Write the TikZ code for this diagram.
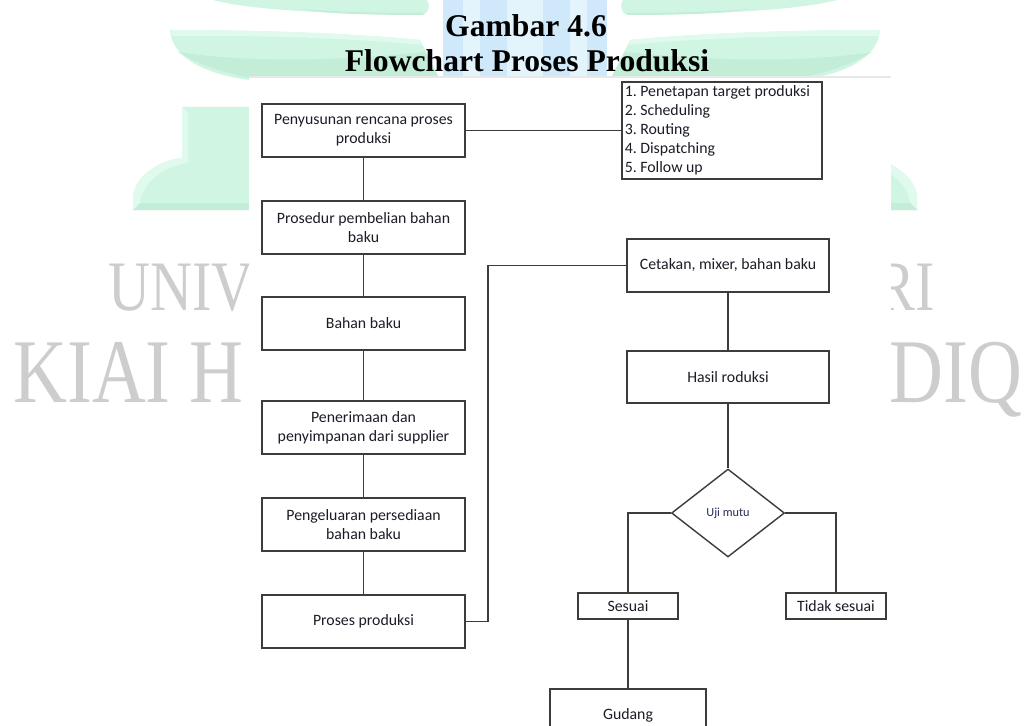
\documentclass[tikz,border=0pt]{standalone}
\usepackage{fontspec}
\setmainfont{Carlito}
\newfontfamily\titlefont{Liberation Serif}
\usetikzlibrary{shapes.geometric}

\definecolor{mint}{HTML}{D0F6E3}
\definecolor{mintdark}{HTML}{C3EDD7}
\definecolor{mintlight}{HTML}{E0FAEE}
\definecolor{skyA}{HTML}{CFE9FA}
\definecolor{skyB}{HTML}{E4F4FD}
\definecolor{wmgrey}{HTML}{CDCDCD}
\definecolor{boxline}{HTML}{3C3C3C}
\definecolor{ink}{HTML}{1C1C28}
\definecolor{navy}{HTML}{262C55}

\tikzset{
  procbox/.style={draw=boxline, line width=0.9pt, fill=white, text=ink,
    align=center, font=\fontsize{9}{11}\selectfont, inner sep=2pt},
  listbox/.style={draw=boxline, line width=0.9pt, fill=white, text=ink,
    align=flush left, font=\fontsize{9}{10.8}\selectfont\frenchspacing, inner sep=1.5pt},
  decision/.style={draw=boxline, line width=0.8pt, fill=white, diamond,
    inner sep=0pt, text=navy, font=\fontsize{7}{8}\selectfont},
  link/.style={draw=boxline, line width=0.8pt},
  wmtext/.style={text=wmgrey, inner sep=0pt, anchor=base west},
  titletext/.style={font=\titlefont\bfseries\fontsize{18}{20}\selectfont,
    inner sep=0pt, anchor=base},
}

% one half of the background emblem (the other half is its mirror image)
\newcommand\emblemhalf{%
  % upper leaf tip
  \fill[mint] (213,0) .. controls (250,10) and (330,14) .. (423,15)
    .. controls (430,12) and (430,4) .. (427,0) -- cycle;
  \fill[mintdark] (300,9) .. controls (340,12) and (380,13) .. (423,13) -- (423,15)
    .. controls (360,15) and (320,13) .. (300,9) -- cycle;
  % lower leaf
  \fill[mint] (170,30) .. controls (250,30) and (350,33) .. (420,40) -- (440,80)
    -- (249,80) .. controls (205,74) and (172,58) .. cycle;
  \fill[mintdark] (178,52) .. controls (205,68) and (232,75) .. (262,80) -- (440,80)
    -- (425,52) .. controls (330,62) and (240,62) .. (178,52) -- cycle;
  \fill[mintlight] (170,30) .. controls (250,30) and (350,33) .. (420,40) -- (422,45)
    .. controls (350,38) and (250,35) .. (172,36) -- cycle;
  % lower block
  \fill[mint] (300,107) -- (182,107) -- (182,158) .. controls (158,160) and (134,178) ..
    (133,197) -- (133,210) -- (300,210) -- cycle;
  \fill[mintlight] (182,107) -- (188,112) -- (188,163) .. controls (165,166) and (142,182) ..
    (140,203) -- (133,210) -- (133,197) .. controls (134,178) and (158,160) .. (182,158) -- cycle;
  \fill[mintdark] (140,203) -- (300,203) -- (300,210) -- (133,210) -- cycle;
  % central bars
  \fill[skyA] (443,0) rectangle (463,80);
  \fill[skyB] (463,0) rectangle (480,80);
  \fill[skyA] (480,0) rectangle (507,80);
  \fill[skyB] (507,0) rectangle (526,80);
}

\begin{document}
\begin{tikzpicture}[x=0.02cm, y=-0.02cm]
\useasboundingbox (0,0) rectangle (1030,726);
\clip (0,0) rectangle (1030,726);
\fill[white] (0,0) rectangle (1030,726);

% background emblem and lettering
\emblemhalf
\begin{scope}[shift={(1050,0)}, xscale=-1]
  \emblemhalf
\end{scope}
\node[wmtext, font=\titlefont\fontsize{40.4}{44}\selectfont] (wm1) at (108,310) {\scalebox{0.82}[1]{UNIV}};
\node[wmtext, font=\titlefont\fontsize{40.4}{44}\selectfont] (wm2) at (876,310) {\scalebox{0.82}[1]{RI}};
\node[wmtext, font=\titlefont\fontsize{51.8}{56}\selectfont] (wm3) at (13,402) {\scalebox{0.82}[1]{KIAI H}};
\node[wmtext, font=\titlefont\fontsize{51.8}{56}\selectfont] (wm4) at (889,402) {\scalebox{0.82}[1]{DIQ}};

% white sheet carrying the flowchart
\fill[white] (249,77) rectangle (891,726);
\draw[black!9, line width=0.8pt] (249,77) -- (891,77);

% title
\node[titletext] (t1) at (526,37) {Gambar 4.6};
\node[titletext] (t2) at (527,72) {Flowchart Proses Produksi};

% left column
\node[procbox, minimum width=4.06cm, minimum height=1.06cm] (b1) at (363.5,130.5) {Penyusunan rencana proses\\produksi};
\node[procbox, minimum width=4.06cm, minimum height=1.06cm] (b2) at (363.5,227.5) {Prosedur pembelian bahan\\baku};
\node[procbox, minimum width=4.06cm, minimum height=1.06cm] (b3) at (363.5,323.5) {Bahan baku};
\node[procbox, minimum width=4.06cm, minimum height=1.06cm] (b4) at (363.5,427.5) {Penerimaan dan\\penyimpanan dari supplier};
\node[procbox, minimum width=4.06cm, minimum height=1.06cm] (b5) at (363.5,524.5) {Pengeluaran persediaan\\bahan baku};
\node[procbox, minimum width=4.06cm, minimum height=1.06cm] (b6) at (363.5,621.5) {Proses produksi};

% planning steps
\node[listbox, text width=3.89cm, minimum height=1.94cm] (steps) at (722,130.5)
  {1. Penetapan target produksi\\2. Scheduling\\3. Routing\\4. Dispatching\\5. Follow up};

% right column
\node[procbox, minimum width=4.04cm, minimum height=1.06cm] (cetak) at (728,265.5) {Cetakan, mixer, bahan baku};
\node[procbox, minimum width=4.04cm, minimum height=1.04cm] (hasil) at (728,377) {Hasil roduksi};
\node[decision, minimum width=2.26cm, minimum height=1.76cm] (uji) at (728,513) {Uji mutu};
\node[procbox, inner sep=1pt, minimum width=2cm, minimum height=0.52cm] (ok) at (628,606) {Sesuai};
\node[procbox, inner sep=1pt, minimum width=2cm, minimum height=0.52cm] (notok) at (836,606) {Tidak sesuai};
\node[procbox, minimum width=3.12cm, minimum height=1.04cm] (gudang) at (628,715) {Gudang};

% connectors
\coordinate (jog) at (488,0);
\draw[link] (b1) -- (b2);
\draw[link] (b2) -- (b3);
\draw[link] (b3) -- (b4);
\draw[link] (b4) -- (b5);
\draw[link] (b5) -- (b6);
\draw[link] (b1.east) -- (steps.west);
\draw[link] (b6.east) -- (b6.east -| jog) |- (cetak.west);
\draw[link] (cetak) -- (hasil);
\draw[link] (hasil) -- (uji);
\draw[link] (uji.west) -| (ok.north);
\draw[link] (uji.east) -| (notok.north);
\draw[link] (ok) -- (gudang);
\end{tikzpicture}
\end{document}
